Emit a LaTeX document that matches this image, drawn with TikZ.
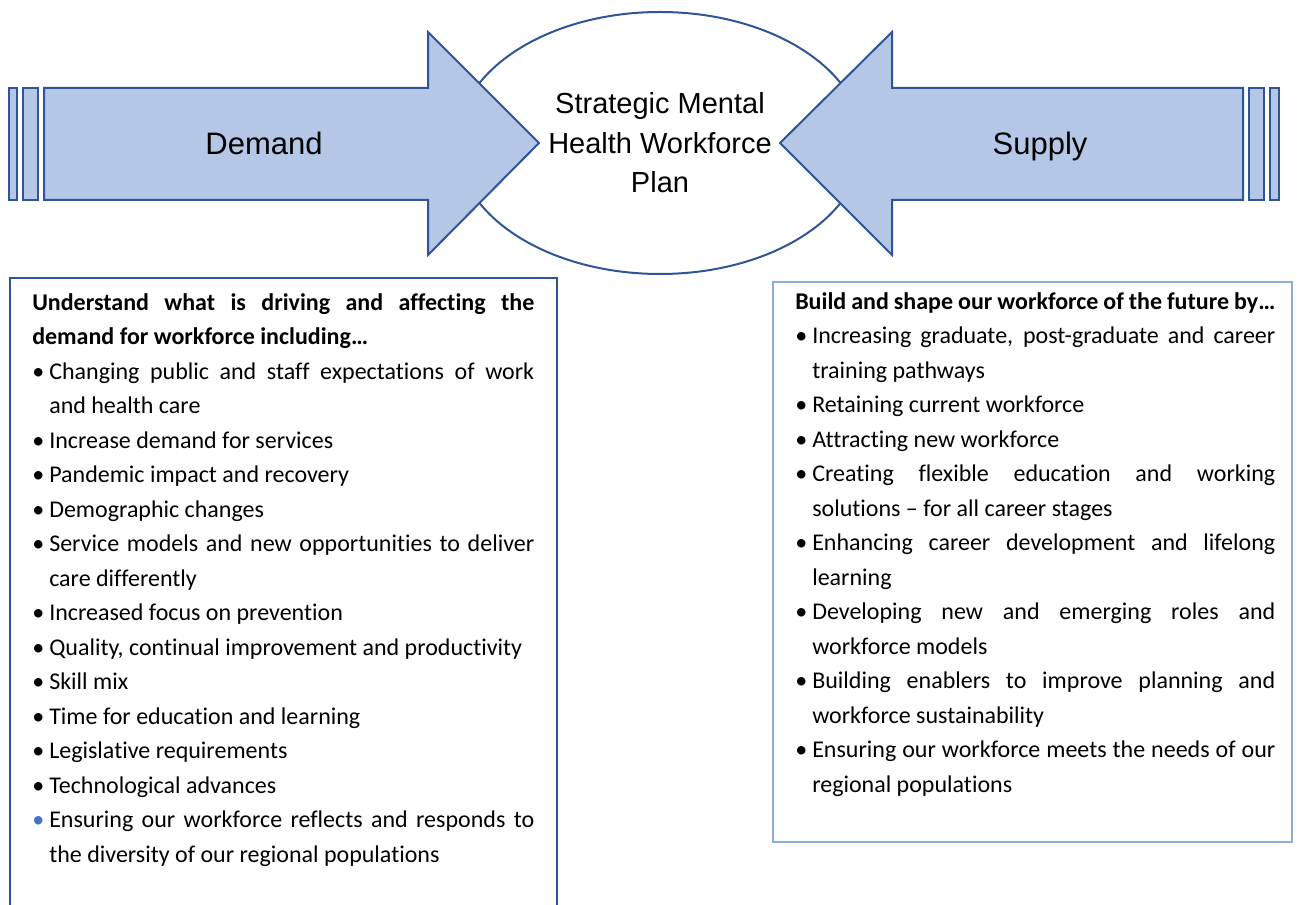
\documentclass[tikz,border=0pt]{standalone}
\usepackage{fontspec}
\setmainfont{Carlito}[Ligatures=NoCommon]
\newfontfamily\arialfont{Liberation Sans}
\usetikzlibrary{shapes.geometric}

\definecolor{arrowfill}{HTML}{B4C7E7}
\definecolor{darkblue}{HTML}{2F5597}
\definecolor{lightframe}{HTML}{8FAADC}
\definecolor{bulletblue}{HTML}{4472C4}

\hyphenpenalty=10000
\exhyphenpenalty=10000

% hanging bullet paragraph
\newlength\bind
\setlength\bind{12.75pt}
\newcommand\bitem[2][black]{\par\noindent\hangindent=\bind\hangafter=1%
  \makebox[\bind][l]{\textcolor{#1}{\textbullet}}#2\par}

\tikzset{
  bigarrow/.style={fill=arrowfill, draw=darkblue, line width=1.5pt, line join=miter},
  listtext/.style={anchor=north west, inner sep=0pt, align=justify,
    font=\fontsize{18}{25.875}\selectfont},
  arrowlabel/.style={anchor=base, inner sep=0pt,
    font=\arialfont\fontsize{23.25}{28}\selectfont}
}

\begin{document}
\begin{tikzpicture}[x=0.75pt, y=-0.75pt]
\useasboundingbox (0,0) rectangle (1298,905);

% central ellipse
\node[ellipse, draw=darkblue, line width=1.5pt, fill=white,
      minimum width=304.5pt, minimum height=196.5pt, align=center,
      font=\arialfont\fontsize{21.75}{29.6}\selectfont] (plan) at (660,143)
  {Strategic Mental\\Health Workforce\\Plan};

% demand arrow (pointing right)
\draw[bigarrow] (9,88) rectangle (17,200);
\draw[bigarrow] (23,88) rectangle (38,200);
\draw[bigarrow] (44,88) -- (428,88) -- (428,32) -- (539,143)
  -- (428,255) -- (428,200) -- (44,200) -- cycle;
\node[arrowlabel] (demand) at (264,155) {Demand};

% supply arrow (pointing left)
\draw[bigarrow] (1249,88) rectangle (1264,200);
\draw[bigarrow] (1270,88) rectangle (1279,200);
\draw[bigarrow] (1243,88) -- (892,88) -- (892,32) -- (780,143)
  -- (892,255) -- (892,200) -- (1243,200) -- cycle;
\node[arrowlabel] (supply) at (1040,155) {Supply};

% list frames
\begin{scope}
\clip (0,0) rectangle (1298,905);
\draw[darkblue, line width=1.5pt] (10,278) rectangle (557,930);
\end{scope}
\draw[lightframe, line width=1.1pt] (773,282) rectangle (1292,842);

% demand drivers
\node[listtext, text width=376.5pt] (demandtext) at (32,290) {%
\noindent\rule{0pt}{15pt}\textbf{Understand what is driving and affecting the\linebreak demand for workforce including…}\par
\bitem{Changing public and staff expectations of work\linebreak and health care}
\bitem{Increase demand for services}
\bitem{Pandemic impact and recovery}
\bitem{Demographic changes}
\bitem{Service models and new opportunities to deliver\linebreak care differently}
\bitem{Increased focus on prevention}
\bitem{Quality, continual improvement and productivity}
\bitem{Skill mix}
\bitem{Time for education and learning}
\bitem{Legislative requirements}
\bitem{Technological advances}
\bitem[bulletblue]{Ensuring our workforce reflects and responds to\linebreak the diversity of our regional populations}
};

% supply actions
\node[listtext, text width=360pt] (supplytext) at (795,289) {%
\noindent\rule{0pt}{15pt}\textbf{Build and shape our workforce of the future by…}\par
\bitem{Increasing graduate, post-graduate and career\linebreak training pathways}
\bitem{Retaining current workforce}
\bitem{Attracting new workforce}
\bitem{Creating flexible education and working\linebreak solutions – for all career stages}
\bitem{Enhancing career development and lifelong\linebreak learning}
\bitem{Developing new and emerging roles and\linebreak workforce models}
\bitem{Building enablers to improve planning and\linebreak workforce sustainability}
\bitem{Ensuring our workforce meets the needs of our\linebreak regional populations}
};
\end{tikzpicture}
\end{document}
